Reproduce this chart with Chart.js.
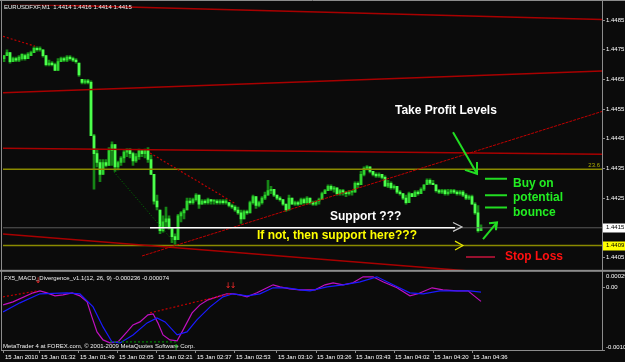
<!DOCTYPE html>
<html>
<head>
<meta charset="utf-8">
<script src="https://cdn.jsdelivr.net/npm/chart.js@4.4.1/dist/chart.umd.min.js"></script>
<style>
  html, body { margin: 0; padding: 0; background: #0b0b0b; }
  canvas { display: block; }
</style>
</head>
<body>
<canvas id="chart" width="625" height="362"></canvas>
<script>
// EURUSD M1, 15 Jan 2010 -- prices kept as pips above 1.4400
const symbolName = 'EURUSDFXF,M1';
const pipBase = 1.44;

const openPips = [
  72,73,74,71,72,71.5,72,73,72,73,
  74,75.5,75,75,73,70,70.5,70,68,71,
  72,71.5,72.5,72,71.5,70.5,65,64,64.5,64,
  46,40,37,33,37,36,41,43,35.5,37,
  38.5,40.5,41.5,40,37.5,39,41,40,41,38,
  33,24,21,14,17,18,15,12,11,19,
  20,21,24,23.5,24.5,26,23,24,23.5,24.5,
  24,24,23.5,24,23.5,23.5,22.5,22,21,20,
  18,20.5,20,23.5,25.5,22.5,23.5,25,26,27.5,
  28,26,25,24.5,23,21,25,23,23.5,23,
  24.5,23.5,25,23.5,23,24,24.5,26.5,27.5,29,
  28,28.5,26.5,27.5,27,26.5,27,27,30,29.5,
  33,35,35.5,34,33,32.5,33,32,29,30,
  28.5,29,27,26.5,25,23.5,26.5,25.5,27,26.5,
  28,29.5,31,30,29.5,27.5,27,27.5,26.5,27,
  27.5,27,26.5,27,26,25,25.5,23,20,14
];
const highPips = [
  73,75,74,72.5,72.5,73,73.5,73.5,74,74.5,
  76,76,76,75,73,71.5,71,70.5,72,72.5,
  72.5,73,73,72.5,72,70.5,65,65,65,64.5,
  46.5,41.5,38,38,38,42,44,43,37.5,39,
  41,41.5,41.5,40.5,40,41.5,41,41.5,42,39.5,
  33,26,21,19,22,19,15,13,19.5,20.5,
  21.5,25,25,25,26.5,26,24.5,24.5,25,24.5,
  24.5,24.5,24.5,24.5,24.5,23.5,23,22.5,22,21,
  21,21,24,26,25.5,24,25.5,27,31,29,
  28,26,25.5,24.5,23,26,25,24,24,25,
  25,25.5,25,24,24,25,27,28,29.5,29.5,
  29,28.5,28,28,27,27.5,27.5,30.5,30.5,34,
  35.5,36,35.5,34,33.5,33.5,33,32.5,31,30.5,
  29.5,29,27.5,26.5,26,27,26.5,27.5,27.5,28.5,
  29.5,31.5,31.5,31,29.5,28,28,28,28,28,
  28,27.5,27.5,27.5,26.5,26,26,23.5,22.5,16
];
const lowPips = [
  71,73,70.5,71,71,71,71.5,71.5,72,73,
  74,74.5,74.5,72.5,69.5,69.5,69.5,68,68,71,
  71,71,71.5,71,70.5,66,63.5,63.5,63.5,46,
  28,35.5,30.5,33,35.5,36,36,34,34.5,36,
  37,39,38.5,36,37,38,39,38.5,37,33,
  23,21,13,13.5,15,14.5,10,9.5,11,17,
  18,21,23,23,24,21.5,23,23,23,23,
  23,23,23,23,23,22,21.5,20.5,19.5,16.5,
  18,19.5,20,23,21.5,22,23,24.5,26,26.5,
  25.5,24.5,24,22.5,20.5,21,23,22.5,22.5,23,
  23,23,23,22.5,22.5,23,24.5,26.5,27.5,27.5,
  27,26,26,26,25.5,26,26,27,28.5,29.5,
  32.5,34.5,33.5,32.5,32,32,31.5,29,28.5,28,
  28,26.5,26,24.5,23,23.5,25.5,25.5,26,26.5,
  27.5,29.5,29.5,29.5,27,26.5,26.5,26,26,26.5,
  26.5,26,26,25.5,24.5,24.5,23,19.5,13.5,14
];
const closePips = [
  73,74,71,72,71.5,72.5,73.5,72,73.5,74,
  75.5,75,75.5,73,70,70.5,70,68,71,72,
  71.5,72.5,72,71.5,71,66.5,64,64.5,64,46,
  40,37,33,37,36,41,43,35.5,37,38.5,
  40.5,41.5,40,37.5,39,41,40,41,38,33,
  24,22,14,17,18,15,12,11,19,20,
  21,24,23.5,24.5,26,23,24,23.5,24.5,24,
  24,23.5,24,23.5,24,22.5,22,21,20,18,
  20.5,20,23.5,25.5,22.5,23.5,25,26,27.5,28,
  26,25,24.5,23,21,25,23,23.5,23,24.5,
  23.5,25,23.5,23,24,24.5,26.5,27.5,29,28,
  28.5,26.5,27.5,27,26.5,27,27,30,29.5,33,
  35,35.5,34,33,32.5,33,32,29,30,28.5,
  29,27,26.5,25,23.5,26.5,25.5,27,26.5,28,
  29.5,31,30,29.5,27.5,27,27.5,26.5,27,27.5,
  27,26.5,27,26,25,25.5,23,20,14,15
];

// time axis
const timeLabels = ['15 Jan 2010','15 Jan 01:32','15 Jan 01:49','15 Jan 02:05','15 Jan 02:21','15 Jan 02:37',
  '15 Jan 02:53','15 Jan 03:10','15 Jan 03:26','15 Jan 03:43','15 Jan 04:02','15 Jan 04:20','15 Jan 04:36'];
const timeLabelBars = [0,12,25,38,51,64,77,91,104,117,130,143,156];

// price axis
const priceTicks = [1.4405,1.4425,1.4435,1.4445,1.4455,1.4465,1.4475,1.4485];
const supportPips = 9;      // 1.4409
const fibPips = 34.67;      // 23.6 level

// MACD (main / signal) as [bar, value]
const macdMain = [
  [-0.3,-0.000296],[3,-0.000244],[9.7,-0.000087],[12,-0.000052],[14.3,-0.000087],[17,-0.000139],
  [19.7,-0.000122],[22.7,-0.000087],[25.3,-0.000139],[27.7,-0.000244],[29.3,-0.000505],[31,-0.000766],
  [33,-0.000905],[35.3,-0.000957],[38,-0.00094],[41,-0.000766],[43,-0.000644],[45.3,-0.000592],
  [48,-0.00047],[49.7,-0.000452],[51.3,-0.000609],[53,-0.000818],[55.3,-0.000905],[57.7,-0.000922],
  [59.7,-0.000731],[62.7,-0.000435],[65.3,-0.000296],[68,-0.000209],[71,-0.000157],[74.3,-0.000104],
  [76.3,-0.000104],[78.7,-0.000122],[81,-0.000157],[84.3,-0.000087],[87.7,0],[89.7,0.000052],
  [92,0.000017],[95.3,-0.000017],[98.7,-0.000035],[103.7,-0.000035],[107,0.000052],[109.7,0.000087],
  [113,0.000052],[116.3,0.000087],[119.7,0.000191],[123,0.000191],[126.3,0.000104],[131,0],
  [135.3,-0.000139],[138,-0.000104],[142.7,0],[146.3,-0.000035],[151,-0.000052],[154.7,-0.000052],
  [156.3,-0.000122],[159,-0.000236]
];
const macdSignal = [
  [-0.3,-0.000418],[5.3,-0.000261],[12,-0.000104],[21,-0.000087],[25.3,-0.000104],[29.7,-0.000331],
  [33,-0.000679],[36,-0.00094],[38.7,-0.000957],[43,-0.000818],[47.7,-0.000609],[51,-0.000522],
  [53.7,-0.000592],[57.7,-0.000818],[61,-0.000766],[64.3,-0.000557],[68.7,-0.000331],[73,-0.000157],
  [76.3,-0.000104],[81,-0.000139],[85.3,-0.000104],[89.7,0],[94.3,0],[98.7,-0.000035],[102,-0.000052],
  [107.7,0.000017],[113,0.000052],[118.7,0.000104],[124.3,0.000191],[129.7,0.000052],[135.3,-0.000087],
  [139.7,-0.000104],[145.3,-0.000052],[151,-0.000052],[155.3,-0.000052],[159,-0.000074]
];
const macdTicks = [-0.00108, 0, 0.000295];
const macdTickLabels = ['-0.00108', '0.00', '0.000295'];
const macdDivTop = [[-0.33,-0.000157],[11.33,-0.000052]];
const macdDivMid = [[48.67,-0.000435],[75.33,-0.000104]];
const macdDivLow = [[35.33,-0.00094],[57.67,-0.00094]];
const macdMarkText = ['\u2193','\u2193','\u2193','\u2191'];
const macdMarkAt = [[11.33,0.000125],[74.67,0.00004],[76.33,0.00004],[57.33,-0.00104]];

// drawn objects on the price chart, [bar, pips]
const regressionTop = [[-0.33,90.5],[199.33,85.2]];
const regressionUpper = [[-0.33,60.5],[199.33,67.8]];
const regressionMid = [[-0.33,41.8],[199.33,39.8]];
const regressionLow = [[-0.33,12.9],[199.33,-3.1]];
const risingTrend = [[46,5.5],[199.33,54.2]];
const divergenceTop = [[-0.33,79.5],[10.33,76.2]];
const divergenceMid = [[48.67,40.2],[77,23.2]];
const divergenceLow = [[36.67,33.8],[56.67,10.2]];
const supportArrow = [[48.67,15],[150.33,15]];
const supportChevron = [[149.67,16.83],[152.67,15.33],[149.67,13.83]];
const lowerChevron = [[150.33,10.5],[153,9],[150.33,7.5]];
const stopLoss = [[154,5.17],[163.67,5.17]];
const targetLevels = [31.5,26,21.8];
const targetSpan = [160.33,167.67];
const profitArrow = [[149.67,47.17],[157.67,33.17]];
const profitArrowHead = [[153.67,34.5],[157.67,33.17],[157.67,37.17]];
const bounceArrow = [[159.67,11.17],[164.33,16.83]];
const bounceArrowHead = [[161.67,16.5],[164.33,16.83],[164,14.17]];

const noteTexts = ['Take Profit Levels','Buy on','potential','bounce','Support ???','If not, then support here???','Stop Loss'];
const noteAnchors = [[130.33,54.5],[169.67,29.83],[169.67,25],[169.67,20.17],[108.67,18.83],[84.33,12.5],[167,5.17]];
const noteColors = ['#ffffff','#22ee22','#22ee22','#22ee22','#ffffff','#ffff00','#ff1010'];

const toPrice = p => +(pipBase + p / 10000).toFixed(5);
const lastBar = closePips.length - 1;
const SMALL = '6px "Liberation Sans", Arial, sans-serif';

function line(points, axis, color, width, dash, order) {
  return {
    type: 'line',
    yAxisID: axis,
    data: points.map(p => ({ x: p[0], y: axis === 'y' ? toPrice(p[1]) : p[1] })),
    borderColor: color,
    borderWidth: width,
    borderDash: dash || [],
    pointRadius: 0,
    tension: 0,
    fill: false,
    order: order
  };
}

const datasets = [
  // green arrows / levels
  line(profitArrow, 'y', '#22dd22', 2, null, 2),
  line(profitArrowHead, 'y', '#22dd22', 2, null, 2),
  line(bounceArrow, 'y', '#22dd22', 2, null, 2),
  line(bounceArrowHead, 'y', '#22dd22', 2, null, 2),
  ...targetLevels.map(l => line([[targetSpan[0], l], [targetSpan[1], l]], 'y', '#22dd22', 2, null, 2)),
  line(stopLoss, 'y', '#c8143c', 1.5, null, 3),
  line(supportArrow, 'y', '#ffffff', 1.5, null, 3),
  line(supportChevron, 'y', '#c8c8c8', 1.2, null, 3),
  line(lowerChevron, 'y', '#e6e600', 1.2, null, 3),
  // trend lines
  line(risingTrend, 'y', '#c00000', 1, [3, 1], 4),
  line(divergenceTop, 'y', '#c00000', 1.2, [2, 2], 4),
  line(divergenceMid, 'y', '#c00000', 1.2, [2, 2], 4),
  line(divergenceLow, 'y', '#007a00', 1, [1, 2], 4),
  line(regressionTop, 'y', '#a80000', 1.5, null, 5),
  line(regressionUpper, 'y', '#a80000', 1.5, null, 5),
  line(regressionMid, 'y', '#a80000', 1.5, null, 5),
  line(regressionLow, 'y', '#a80000', 1.5, null, 5),
  line([[-0.33, fibPips], [199.33, fibPips]], 'y', '#8a8a00', 1.5, null, 6),
  line([[-0.33, supportPips], [199.33, supportPips]], 'y', '#8a8a00', 1.5, null, 6),
  line([[-0.33, closePips[lastBar]], [199.33, closePips[lastBar]]], 'y', '#5a5a5a', 1, null, 7),
  // candles
  {
    type: 'bar', yAxisID: 'y', order: 8, grouped: false, barThickness: 2, minBarLength: 1,
    data: openPips.map((o, i) => ({ x: i, y: [toPrice(o), toPrice(closePips[i])] })),
    backgroundColor: openPips.map((o, i) => closePips[i] >= o ? '#2fd42f' : '#4cff4c')
  },
  {
    type: 'bar', yAxisID: 'y', order: 9, grouped: false, barThickness: 2, minBarLength: 1,
    data: lowPips.map((l, i) => ({ x: i, y: [toPrice(l), toPrice(highPips[i])] })),
    backgroundColor: '#168516'
  },
  // MACD panel
  line(macdDivTop, 'y2', '#c00000', 1.2, [2, 2], 2),
  line(macdDivMid, 'y2', '#c00000', 1.2, [2, 2], 2),
  line(macdDivLow, 'y2', '#008000', 1.2, [2, 2], 2),
  line(macdSignal, 'y2', '#1a1aff', 1.2, null, 3),
  line(macdMain, 'y2', '#c010c0', 1.2, null, 3)
];

const mt4Plugin = {
  id: 'mt4',
  beforeDraw(chart) {
    const ctx = chart.ctx;
    ctx.save();
    ctx.fillStyle = '#0b0b0b';
    ctx.fillRect(0, 0, chart.width, chart.height);
    ctx.restore();
  },
  beforeDatasetDraw(chart, args) {
    // keep each dataset inside its own panel
    const ys = args.meta.yScale, a = chart.chartArea, ctx = chart.ctx;
    ctx.save();
    ctx.beginPath();
    ctx.rect(a.left, ys.top, a.right - a.left, ys.bottom - ys.top);
    ctx.clip();
  },
  afterDatasetDraw(chart) {
    chart.ctx.restore();
  },
  afterDraw(chart) {
    const { ctx, chartArea: a } = chart;
    const { x, y, y2 } = chart.scales;
    ctx.save();

    // frames
    ctx.strokeStyle = '#8c8c8c';
    ctx.lineWidth = 1;
    ctx.beginPath();
    ctx.moveTo(0, 0.5); ctx.lineTo(chart.width, 0.5);
    ctx.moveTo(1.5, 0); ctx.lineTo(1.5, y2.bottom + 1);
    ctx.moveTo(a.right + 0.5, 0); ctx.lineTo(a.right + 0.5, y2.bottom + 1);
    ctx.moveTo(1, y2.bottom + 0.5); ctx.lineTo(a.right + 1, y2.bottom + 0.5);
    ctx.stroke();
    ctx.fillStyle = '#8c8c8c';
    ctx.fillRect(0, y.bottom - 1, chart.width, 2);

    // price boxes on the axis
    ctx.font = SMALL;
    ctx.textBaseline = 'middle';
    ctx.textAlign = 'left';
    const boxes = [[closePips[lastBar], '#ffffff'], [supportPips, '#ffff00']];
    boxes.forEach(([p, col]) => {
      const py = y.getPixelForValue(toPrice(p));
      ctx.fillStyle = col;
      ctx.fillRect(a.right + 1, Math.round(py) - 4.5, 22, 9);
      ctx.fillStyle = '#000000';
      ctx.fillText(toPrice(p).toFixed(4), a.right + 4, py);
    });

    // MACD axis labels, kept inside the panel like the terminal does
    ctx.fillStyle = '#ffffff';
    macdTicks.forEach((v, i) => {
      const py = Math.min(Math.max(y2.getPixelForValue(v), y2.top + 6), y2.bottom - 3);
      ctx.fillText(macdTickLabels[i], a.right + 4, py);
    });

    // fib label
    ctx.fillStyle = '#b0b000';
    ctx.textAlign = 'right';
    ctx.textBaseline = 'bottom';
    ctx.fillText('23.6', a.right - 2, y.getPixelForValue(toPrice(fibPips)) - 1);

    // panel titles
    ctx.textAlign = 'left';
    ctx.textBaseline = 'middle';
    ctx.fillStyle = '#f0f0f0';
    const ohlc = [openPips, highPips, lowPips, closePips].map(s => toPrice(s[lastBar]).toFixed(4)).join(' ');
    ctx.fillText(symbolName + '  ' + ohlc, 4, 7);
    const lastMain = macdMain[macdMain.length - 1][1], lastSig = macdSignal[macdSignal.length - 1][1];
    ctx.fillText('FX5_MACD_Divergence_v1.1(12, 26, 9) ' + lastMain.toFixed(6) + ' ' + lastSig.toFixed(6), 4, y2.top + 8);
    ctx.fillText('MetaTrader 4 at FOREX.com, \u00a9 2001-2009 MetaQuotes Software Corp.', 3, y2.bottom - 4);

    // MACD arrows
    ctx.font = '8px "DejaVu Sans", sans-serif';
    ctx.textAlign = 'center';
    macdMarkText.forEach((t, i) => {
      ctx.fillStyle = t === '\u2191' ? '#1ec81e' : '#ff2a2a';
      ctx.fillText(t, x.getPixelForValue(macdMarkAt[i][0]), y2.getPixelForValue(macdMarkAt[i][1]));
    });

    // notes
    ctx.font = 'bold 12px "Liberation Sans", Arial, sans-serif';
    ctx.textAlign = 'left';
    noteTexts.forEach((t, i) => {
      ctx.fillStyle = noteColors[i];
      ctx.fillText(t, x.getPixelForValue(noteAnchors[i][0]), y.getPixelForValue(toPrice(noteAnchors[i][1])));
    });
    ctx.restore();
  }
};

const tickFont = { family: '"Liberation Sans", Arial, sans-serif', size: 6 };

new Chart(document.getElementById('chart'), {
  type: 'bar',
  data: { datasets: datasets },
  plugins: [mt4Plugin],
  options: {
    responsive: false,
    animation: false,
    layout: { padding: { left: 3, top: 1, right: 0, bottom: 0 } },
    plugins: { legend: { display: false }, tooltip: { enabled: false } },
    scales: {
      x: {
        type: 'linear', position: 'bottom', offset: false,
        min: -0.333, max: 199.333,
        grid: { offset: false, drawOnChartArea: false, color: '#8c8c8c', tickLength: 3 },
        border: { display: false },
        afterBuildTicks: s => { s.ticks = timeLabelBars.map(v => ({ value: v })); },
        afterFit: s => { s.height = 12; },
        ticks: {
          autoSkip: false, maxRotation: 0, minRotation: 0, align: 'start', labelOffset: 1,
          padding: 1, color: '#ffffff', font: tickFont,
          callback: (v, i) => timeLabels[i]
        }
      },
      y: {
        type: 'linear', position: 'right', stack: 'panels', stackWeight: 269, weight: 1,
        beginAtZero: false, min: toPrice(0.5), max: toPrice(90.17),
        grid: { drawOnChartArea: false, color: '#8c8c8c', tickLength: 3 },
        border: { display: false },
        afterBuildTicks: s => { s.ticks = priceTicks.map(v => ({ value: v })); },
        afterFit: s => { s.width = 23; },
        ticks: { padding: 1, color: '#ffffff', font: tickFont, callback: v => v.toFixed(4) }
      },
      y2: {
        type: 'linear', position: 'right', stack: 'panels', stackWeight: 80, weight: 2,
        beginAtZero: false, min: -0.00108, max: 0.000295,
        grid: { drawOnChartArea: false, color: '#8c8c8c', tickLength: 3 },
        border: { display: false },
        afterBuildTicks: s => { s.ticks = macdTicks.map(v => ({ value: v })); },
        afterFit: s => { s.width = 23; },
        ticks: { display: false }
      }
    }
  }
});
</script>
</body>
</html>
